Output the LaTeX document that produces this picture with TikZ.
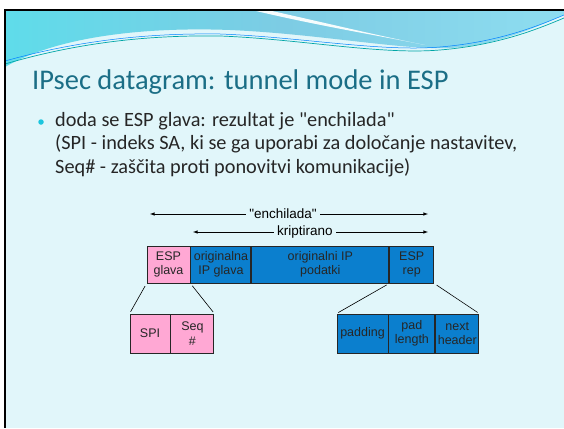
\documentclass[tikz,border=0pt]{standalone}
\usepackage{fontspec}
\setmainfont{Carlito}[Ligatures=TeXOff]
\newfontfamily\arialfont{Liberation Sans}[Ligatures=TeXOff]
\usetikzlibrary{positioning}
\definecolor{slidebg}{HTML}{E1F6FA}
\definecolor{titleblue}{HTML}{1B6E86}
\definecolor{espblue}{HTML}{0B7FCE}
\definecolor{esppink}{HTML}{FFA8D4}
\definecolor{dotcyan}{HTML}{1CC6DE}
\definecolor{wavea}{HTML}{5FDCEA}
\definecolor{waveb}{HTML}{7DCCE4}
\definecolor{wavec}{HTML}{8EDDF0}
\tikzset{node distance=0pt, auto,
  field/.style={draw=black!85, line width=0.9pt, inner sep=0pt, align=center,
    font=\arialfont\fontsize{12.5}{14.5}\selectfont, text=black!85},
  pinkfield/.style={field, fill=esppink},
  bluefield/.style={field, fill=espblue},
  span/.style={<->, >=latex, line width=0.6pt},
  spanlabel/.style={fill=slidebg, inner sep=3pt, font=\arialfont\fontsize{13.5}{14}\selectfont},
  zoomline/.style={line width=0.6pt, shorten <=3pt, shorten >=2pt}}

\begin{document}
\begin{tikzpicture}[x=1pt, y=-1pt]
\useasboundingbox (0,0) rectangle (564,428);
\fill[white] (0,0) rectangle (564,428);
\fill[slidebg] (5,11) rectangle (564,428);

% header wave
\shade[left color=wavea, right color=wavec, middle color=waveb]
  (5,11) -- (564,11) -- (564,15) .. controls (540,25) and (500,45) .. (450,48)
  .. controls (400,50) and (320,34) .. (230,30)
  .. controls (150,27) and (60,35) .. (5,67) -- cycle;
\fill[white!70!slidebg] (256,11) -- (272,11) .. controls (330,24) and (380,36) .. (425,45)
  .. controls (370,34) and (320,26) .. (256,11);
\draw[teal!70!cyan, line width=0.7pt] (5,64) .. controls (80,42) and (150,35) .. (220,36)
  .. controls (300,39) and (380,55) .. (440,50) .. controls (500,45) and (540,28) .. (564,18);
\draw[blue!50!cyan, line width=0.5pt] (5,61) .. controls (80,40) and (150,33) .. (220,34)
  .. controls (300,37) and (380,52) .. (440,47) .. controls (500,42) and (540,25) .. (564,15);
\draw[black, line width=2.5pt] (564,10) -- (5,10) -- (5,428);

% title and bullet
\node[anchor=base west, inner sep=0pt, text=titleblue, font=\fontsize{28.5}{32}\selectfont] (title) at (32,89)
  {IPsec datagram: tunnel mode in ESP};
\node[circle, fill=dotcyan, inner sep=0pt, minimum size=5.5pt] (dot) at (41,122) {};
\node[anchor=north west, inner sep=0pt, align=left, text=black!85, font=\fontsize{20.3}{23.5}\selectfont] (bullet) at (55,112)
  {doda se ESP glava: rezultat je "enchilada"\\
   (SPI - indeks SA, ki se ga uporabi za določanje nastavitev,\\
   Seq\# - zaščita proti ponovitvi komunikacije)};

% datagram
\node[pinkfield, minimum width=43pt, minimum height=37pt] (espglava) at (168.5,264.5) {ESP\\glava};
\node[bluefield, minimum width=60pt, minimum height=37pt, right=of espglava] (ipglava) {originalna\\IP glava};
\node[bluefield, minimum width=137pt, minimum height=37pt, right=of ipglava] (podatki) {originalni IP\\podatki};
\node[bluefield, minimum width=44pt, minimum height=37pt, right=of podatki] (esprep) {ESP\\rep};

\node[pinkfield, minimum width=40pt, minimum height=39pt] (spi) at (150,333.5) {SPI};
\node[pinkfield, minimum width=43pt, minimum height=39pt, right=of spi] (seq) {Seq\\\#};
\node[bluefield, minimum width=51pt, minimum height=39pt] (padding) at (362.5,333.5) {padding};
\node[bluefield, minimum width=46pt, minimum height=39pt, right=of padding] (padlen) {pad\\length};
\node[bluefield, minimum width=43pt, minimum height=39pt, right=of padlen] (nexthdr) {next\\header};

% spans
\coordinate (encha) at (150,214);
\coordinate (enchb) at (428,214);
\coordinate (kripa) at (193,232);
\coordinate (kripb) at (428,232);
\draw[span] (encha) -- (enchb);
\draw[span] (kripa) -- (kripb);
\node[spanlabel] (enchlabel) at (283,214) {"enchilada"};
\node[spanlabel] (kriplabel) at (305,232) {kriptirano};

% zoom lines
\draw[zoomline] (espglava.south west) -- (spi.north west);
\draw[zoomline] (espglava.south east) -- (seq.north east);
\draw[zoomline] (esprep.south west) -- (padding.north west);
\draw[zoomline] (esprep.south east) -- (nexthdr.north east);
\end{tikzpicture}
\end{document}
